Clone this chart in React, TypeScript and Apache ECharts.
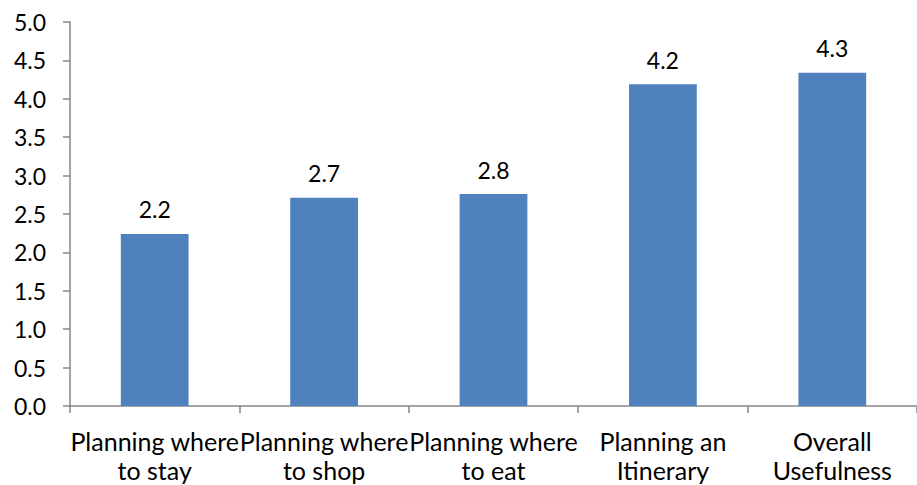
import React, { useEffect, useRef } from "react";
import * as echarts from "echarts";

const categories = [
  "Planning where\nto stay",
  "Planning where\nto shop",
  "Planning where\nto eat",
  "Planning an\nItinerary",
  "Overall\nUsefulness",
];
const values = [2.24, 2.71, 2.76, 4.19, 4.34];
const yTicks = { min: 0, max: 5, interval: 0.5 };

const FONT = "Lato";

export default function App() {
  const ref = useRef<HTMLDivElement>(null);
  useEffect(() => {
    if (!ref.current) return;
    const chart = echarts.init(ref.current, null, { renderer: "svg" });
    chart.setOption({
      animation: false,
      grid: { left: 70, top: 22, width: 855, height: 384, containLabel: false },
      xAxis: {
        type: "category",
        data: categories,
        axisLine: { lineStyle: { color: "#868686", width: 1.5 } },
        axisTick: { show: true, length: 7, lineStyle: { color: "#868686", width: 1.5 } },
        axisLabel: {
          interval: 0,
          color: "#000",
          fontFamily: FONT,
          fontSize: 25,
          lineHeight: 29,
          margin: 20,
        },
      },
      yAxis: {
        type: "value",
        min: yTicks.min,
        max: yTicks.max,
        interval: yTicks.interval,
        axisLine: { show: true, lineStyle: { color: "#868686", width: 1.5 } },
        axisTick: { show: true, length: 7, lineStyle: { color: "#868686", width: 1.5 } },
        splitLine: { show: false },
        axisLabel: {
          color: "#000",
          fontFamily: FONT,
          fontSize: 23,
          margin: 24,
          formatter: (v: number) => v.toFixed(1),
        },
      },
      series: [
        {
          type: "bar",
          data: values,
          barWidth: "40%",
          itemStyle: { color: "#4F81BD" },
          label: {
            show: true,
            position: "top",
            distance: 13,
            color: "#000",
            fontFamily: FONT,
            fontSize: 23,
            formatter: (p: any) => Number(p.value).toFixed(1),
          },
        },
      ],
    });
    return () => chart.dispose();
  }, []);
  return <div ref={ref} style={{ width: 917, height: 485, position: "absolute", left: 0, top: 0 }} />;
}
